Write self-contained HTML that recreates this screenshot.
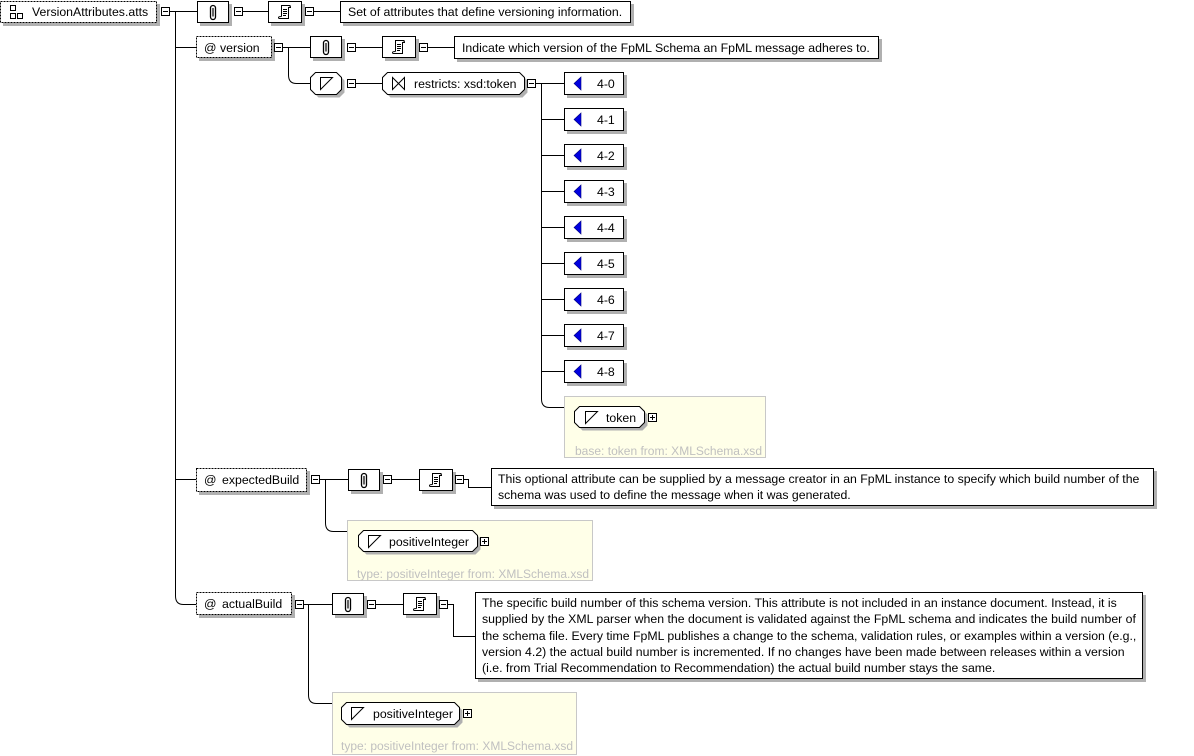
<!DOCTYPE html>
<html><head><meta charset="utf-8"><style>
html,body{margin:0;padding:0;background:#fff;}
svg{display:block;}
text{font-family:"Liberation Sans",Arial,sans-serif;font-size:12.3px;fill:#000;}
.g{fill:#c0c0c0;}
.d{shape-rendering:crispEdges;}
</style></head><body>
<svg width="1194" height="756" viewBox="0 0 1194 756" xmlns="http://www.w3.org/2000/svg">
<defs>
<g id="mi"><rect x="0.5" y="0.5" width="8" height="8" fill="#fff" stroke="#000"/><line x1="2" y1="4.5" x2="7" y2="4.5" stroke="#000"/></g>
<g id="pl"><rect x="0.5" y="0.5" width="8" height="8" fill="#fff" stroke="#000"/><line x1="2" y1="4.5" x2="7" y2="4.5" stroke="#000"/><line x1="4.5" y1="2" x2="4.5" y2="7" stroke="#000"/></g>
<g id="clipbox"><rect x="3" y="3" width="32" height="22" fill="#b0b0b0"/><rect x="0.5" y="0.5" width="31" height="21" fill="#fff" stroke="#000"/><rect x="13.5" y="4.5" width="5" height="14" rx="2.5" fill="none" stroke="#000" stroke-width="1.3"/><line x1="16" y1="7" x2="16" y2="15.5" stroke="#000" stroke-width="1.2"/></g>
<g id="docbox"><rect x="3" y="3" width="34" height="22" fill="#b0b0b0"/><rect x="0.5" y="0.5" width="33" height="21" fill="#fff" stroke="#000"/><path d="M13.5,15.5 V4.5 H22.5 M20.5,4.5 Q22.5,4.5 22.5,6.5 H20.5 V17.5 H11.5 Q10.5,17.5 10.5,16.5 Q10.5,15.5 13.5,15.5" fill="none" stroke="#000"/><path d="M15,8.5 H19 M15,10.5 H19 M15,12.5 H19 M15,14.5 H18" stroke="#000"/></g>
<path id="st" d="M0.5,12.5 V0.5 H12.5 Z" fill="none" stroke="#000"/>
</defs>

<!-- main connectors -->
<g fill="none" stroke="#000">
<path d="M170,11.5 H197"/>
<path d="M243,11.5 H268"/>
<path d="M314,11.5 H340"/>
<path d="M175.5,11 V596 Q175.5,604.5 183.5,604.5 H196"/>
<path d="M175,47.5 H196"/>
<path d="M175,479.5 H196"/>
<path d="M283,47.5 H310"/>
<path d="M288.5,47.5 V75 Q288.5,83.5 296.5,83.5 H310"/>
<path d="M356,47.5 H382"/>
<path d="M428,47.5 H454"/>
<path d="M356,83.5 H382"/>
<path d="M536,83.5 H564"/>
<path d="M541.5,83.5 V399 Q541.5,407.5 549.5,407.5 H564"/>
<path d="M541,119.5 H564 M541,155.5 H564 M541,191.5 H564 M541,227.5 H564 M541,263.5 H564 M541,299.5 H564 M541,335.5 H564 M541,371.5 H564"/>
<path d="M320,479.5 H348"/>
<path d="M325.5,479.5 V523 Q325.5,531.5 333.5,531.5 H347"/>
<path d="M392,479.5 H419"/>
<path d="M464,479.5 H468.5 V487.5 H491"/>
<path d="M304,604.5 H332"/>
<path d="M308.5,604.5 V695 Q308.5,703.5 316.5,703.5 H332"/>
<path d="M376,604.5 H403"/>
<path d="M448,604.5 H453.5 V636.5 H475"/>
</g>

<!-- root -->
<rect x="3" y="4" width="157" height="22" fill="#b0b0b0"/>
<rect class="d" x="0.5" y="1.5" width="156" height="21" fill="#fff" stroke="#000" stroke-dasharray="2,1"/>
<g fill="none" stroke="#000"><rect x="10.5" y="5.5" width="5" height="5"/><rect x="10.5" y="13.5" width="5" height="5"/><rect x="17.5" y="13.5" width="5" height="5"/></g>
<text x="32" y="16">VersionAttributes.atts</text>
<use href="#mi" x="161" y="7"/>
<use href="#clipbox" x="197" y="1"/>
<use href="#mi" x="234" y="7"/>
<use href="#docbox" x="268" y="1"/>
<use href="#mi" x="305" y="7"/>
<rect x="343" y="4" width="291" height="22" fill="#b0b0b0"/>
<rect x="340.5" y="1.5" width="290" height="21" fill="#fff" stroke="#000"/>
<text x="348" y="16">Set of attributes that define versioning information.</text>

<!-- version -->
<rect x="199" y="39" width="76" height="22" fill="#b0b0b0"/>
<rect class="d" x="196.5" y="36.5" width="75" height="21" fill="#fff" stroke="#000" stroke-dasharray="2,1"/>
<text x="204" y="52">@</text><text x="220" y="52">version</text>
<use href="#mi" x="274" y="43"/>
<use href="#clipbox" x="310" y="36"/>
<use href="#mi" x="347" y="43"/>
<use href="#docbox" x="382" y="36"/>
<use href="#mi" x="419" y="43"/>
<rect x="457" y="39" width="425" height="23" fill="#b0b0b0"/>
<rect x="454.5" y="36.5" width="424" height="22" fill="#fff" stroke="#000"/>
<text x="462" y="52">Indicate which version of the FpML Schema an FpML message adheres to.</text>

<polygon points="318.5,75.5 339.5,75.5 344.5,80.5 344.5,92.5 339.5,97.5 318.5,97.5 313.5,92.5 313.5,80.5" fill="#b0b0b0"/>
<polygon points="315.5,72.5 336.5,72.5 341.5,77.5 341.5,89.5 336.5,94.5 315.5,94.5 310.5,89.5 310.5,77.5" fill="#fff" stroke="#000"/>
<use href="#st" x="320" y="77"/>
<use href="#mi" x="347" y="79"/>
<polygon points="390.5,75.5 522.5,75.5 527.5,80.5 527.5,92.5 522.5,97.5 390.5,97.5 385.5,92.5 385.5,80.5" fill="#b0b0b0"/>
<polygon points="387.5,72.5 519.5,72.5 524.5,77.5 524.5,89.5 519.5,94.5 387.5,94.5 382.5,89.5 382.5,77.5" fill="#fff" stroke="#000"/>
<path d="M392.5,77.5 V89.5 L404.5,77.5 V89.5 Z" fill="none" stroke="#000"/>
<text x="414" y="88">restricts: xsd:token</text>
<use href="#mi" x="527" y="79"/>

<!-- enumerations -->
<g>
<rect x="567" y="75" width="60" height="23" fill="#b0b0b0"/><rect x="564.5" y="72.5" width="59" height="22" fill="#fff" stroke="#000"/><polygon points="574,83.5 581,77 581,90" fill="#0000e0" stroke="#000080" stroke-width="0.6"/><text x="597" y="88">4-0</text>
<rect x="567" y="111" width="60" height="23" fill="#b0b0b0"/><rect x="564.5" y="108.5" width="59" height="22" fill="#fff" stroke="#000"/><polygon points="574,119.5 581,113 581,126" fill="#0000e0" stroke="#000080" stroke-width="0.6"/><text x="597" y="124">4-1</text>
<rect x="567" y="147" width="60" height="23" fill="#b0b0b0"/><rect x="564.5" y="144.5" width="59" height="22" fill="#fff" stroke="#000"/><polygon points="574,155.5 581,149 581,162" fill="#0000e0" stroke="#000080" stroke-width="0.6"/><text x="597" y="160">4-2</text>
<rect x="567" y="183" width="60" height="23" fill="#b0b0b0"/><rect x="564.5" y="180.5" width="59" height="22" fill="#fff" stroke="#000"/><polygon points="574,191.5 581,185 581,198" fill="#0000e0" stroke="#000080" stroke-width="0.6"/><text x="597" y="196">4-3</text>
<rect x="567" y="219" width="60" height="23" fill="#b0b0b0"/><rect x="564.5" y="216.5" width="59" height="22" fill="#fff" stroke="#000"/><polygon points="574,227.5 581,221 581,234" fill="#0000e0" stroke="#000080" stroke-width="0.6"/><text x="597" y="232">4-4</text>
<rect x="567" y="255" width="60" height="23" fill="#b0b0b0"/><rect x="564.5" y="252.5" width="59" height="22" fill="#fff" stroke="#000"/><polygon points="574,263.5 581,257 581,270" fill="#0000e0" stroke="#000080" stroke-width="0.6"/><text x="597" y="268">4-5</text>
<rect x="567" y="291" width="60" height="23" fill="#b0b0b0"/><rect x="564.5" y="288.5" width="59" height="22" fill="#fff" stroke="#000"/><polygon points="574,299.5 581,293 581,306" fill="#0000e0" stroke="#000080" stroke-width="0.6"/><text x="597" y="304">4-6</text>
<rect x="567" y="327" width="60" height="23" fill="#b0b0b0"/><rect x="564.5" y="324.5" width="59" height="22" fill="#fff" stroke="#000"/><polygon points="574,335.5 581,329 581,342" fill="#0000e0" stroke="#000080" stroke-width="0.6"/><text x="597" y="340">4-7</text>
<rect x="567" y="363" width="60" height="23" fill="#b0b0b0"/><rect x="564.5" y="360.5" width="59" height="22" fill="#fff" stroke="#000"/><polygon points="574,371.5 581,365 581,378" fill="#0000e0" stroke="#000080" stroke-width="0.6"/><text x="597" y="376">4-8</text>
</g>

<!-- token -->
<rect x="564.5" y="396.5" width="201" height="61" fill="#ffffe8" stroke="#c8c8c8"/>
<polygon points="582.5,409.5 642.5,409.5 647.5,414.5 647.5,425.5 642.5,430.5 582.5,430.5 577.5,425.5 577.5,414.5" fill="#b0b0b0"/>
<polygon points="579.5,406.5 639.5,406.5 644.5,411.5 644.5,422.5 639.5,427.5 579.5,427.5 574.5,422.5 574.5,411.5" fill="#fff" stroke="#000"/>
<use href="#st" x="585" y="411"/>
<text x="606" y="422">token</text>
<use href="#pl" x="648" y="413"/>
<text x="575" y="455" class="g" textLength="187" lengthAdjust="spacingAndGlyphs">base: token from: XMLSchema.xsd</text>

<!-- expectedBuild -->
<rect x="199" y="471" width="111" height="24" fill="#b0b0b0"/>
<rect class="d" x="196.5" y="468.5" width="110" height="23" fill="#fff" stroke="#000" stroke-dasharray="2,1"/>
<text x="204" y="484">@</text><text x="222" y="484">expectedBuild</text>
<use href="#mi" x="311" y="475"/>
<use href="#clipbox" x="348" y="469"/>
<use href="#mi" x="383" y="475"/>
<use href="#docbox" x="419" y="469"/>
<use href="#mi" x="455" y="475"/>
<rect x="494" y="471" width="663" height="38" fill="#b0b0b0"/>
<rect x="491.5" y="468.5" width="662" height="37" fill="#fff" stroke="#000"/>
<text x="498" y="483">This optional attribute can be supplied by a message creator in an FpML instance to specify which build number of the</text>
<text x="498" y="499">schema was used to define the message when it was generated.</text>

<rect x="347.5" y="520.5" width="245" height="60" fill="#ffffe8" stroke="#c8c8c8"/>
<polygon points="366.5,533.5 475.5,533.5 480.5,538.5 480.5,549.5 475.5,554.5 366.5,554.5 361.5,549.5 361.5,538.5" fill="#b0b0b0"/>
<polygon points="363.5,530.5 472.5,530.5 477.5,535.5 477.5,546.5 472.5,551.5 363.5,551.5 358.5,546.5 358.5,535.5" fill="#fff" stroke="#000"/>
<use href="#st" x="368" y="535"/>
<text x="389" y="546">positiveInteger</text>
<use href="#pl" x="480" y="537"/>
<text x="357" y="578" class="g" textLength="232" lengthAdjust="spacingAndGlyphs">type: positiveInteger from: XMLSchema.xsd</text>

<!-- actualBuild -->
<rect x="199" y="595" width="96" height="23" fill="#b0b0b0"/>
<rect class="d" x="196.5" y="592.5" width="95" height="22" fill="#fff" stroke="#000" stroke-dasharray="2,1"/>
<text x="204" y="608">@</text><text x="222" y="608">actualBuild</text>
<use href="#mi" x="295" y="600"/>
<use href="#clipbox" x="332" y="593"/>
<use href="#mi" x="367" y="600"/>
<use href="#docbox" x="403" y="593"/>
<use href="#mi" x="439" y="600"/>
<rect x="478" y="595" width="668" height="87" fill="#b0b0b0"/>
<rect x="475.5" y="592.5" width="667" height="86" fill="#fff" stroke="#000"/>
<text x="482" y="607">The specific build number of this schema version. This attribute is not included in an instance document. Instead, it is</text>
<text x="482" y="623">supplied by the XML parser when the document is validated against the FpML schema and indicates the build number of</text>
<text x="482" y="640">the schema file. Every time FpML publishes a change to the schema, validation rules, or examples within a version (e.g.,</text>
<text x="482" y="656">version 4.2) the actual build number is incremented. If no changes have been made between releases within a version</text>
<text x="482" y="672">(i.e. from Trial Recommendation to Recommendation) the actual build number stays the same.</text>

<rect x="332.5" y="692.5" width="244" height="62" fill="#ffffe8" stroke="#c8c8c8"/>
<polygon points="349.5,705.5 457.5,705.5 462.5,710.5 462.5,722.5 457.5,727.5 349.5,727.5 344.5,722.5 344.5,710.5" fill="#b0b0b0"/>
<polygon points="346.5,702.5 454.5,702.5 459.5,707.5 459.5,719.5 454.5,724.5 346.5,724.5 341.5,719.5 341.5,707.5" fill="#fff" stroke="#000"/>
<use href="#st" x="351" y="707"/>
<text x="373" y="718">positiveInteger</text>
<use href="#pl" x="463" y="709"/>
<text x="341" y="750" class="g" textLength="232" lengthAdjust="spacingAndGlyphs">type: positiveInteger from: XMLSchema.xsd</text>
</svg>
</body></html>
